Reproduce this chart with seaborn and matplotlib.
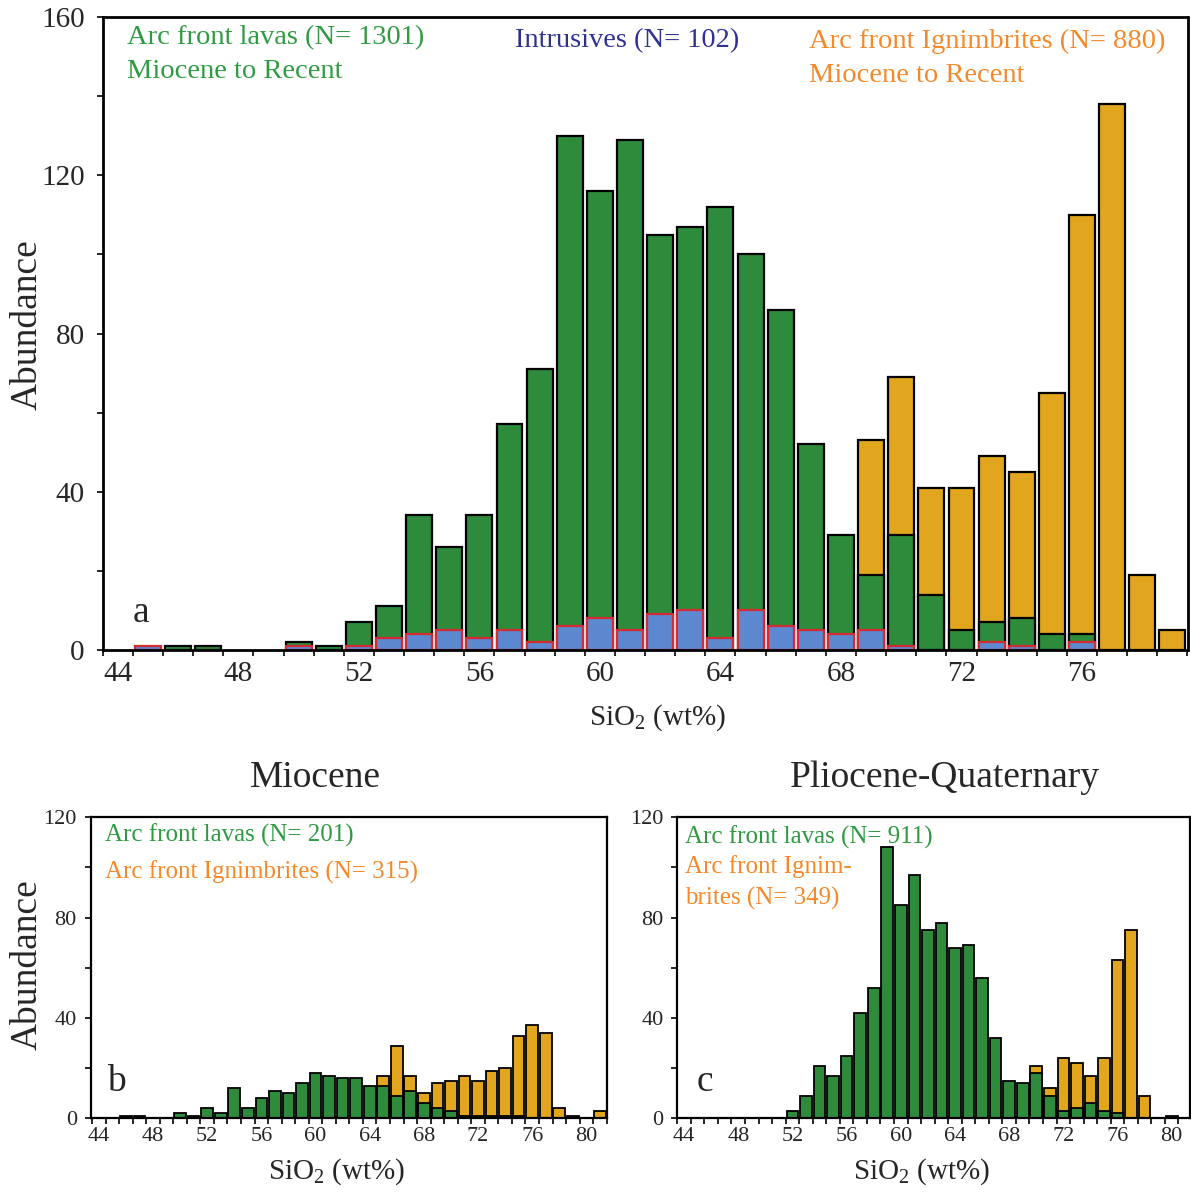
import matplotlib
matplotlib.use("Agg")
import matplotlib.pyplot as plt
import seaborn as sns
import numpy as np
import pandas as pd
from matplotlib.ticker import FixedLocator

# ---------------- data ----------------
# Panel a (all ages)
lava_bins_a = [46, 47, 50, 51, 52, 53, 54, 55, 56, 57, 58, 59, 60, 61, 62, 63, 64, 65,
               66, 67, 68, 69, 70, 71, 72, 73, 74, 75, 76]
lava_counts_a = [1, 1, 2, 1, 7, 11, 34, 26, 34, 57, 71, 130, 116, 129, 105, 107, 112, 100,
                 86, 52, 29, 19, 29, 14, 5, 7, 8, 4, 4]
intr_bins_a = [45, 50, 52, 53, 54, 55, 56, 57, 58, 59, 60, 61, 62, 63, 64, 65, 66, 67,
               68, 69, 70, 73, 74, 76]
intr_counts_a = [1, 1, 1, 3, 4, 5, 3, 5, 2, 6, 8, 5, 9, 10, 3, 10, 6, 5, 4, 5, 1, 2, 1, 2]
ign_bins_a = [69, 70, 71, 72, 73, 74, 75, 76, 77, 78, 79]
ign_counts_a = [53, 69, 41, 41, 49, 45, 65, 110, 138, 19, 5]

# Panel b (Miocene)
lava_bins_b = [46, 47, 50, 51, 52, 53, 54, 55, 56, 57, 58, 59, 60, 61, 62, 63, 64, 65,
               66, 67, 68, 69, 70, 71, 72, 73, 74, 75]
lava_counts_b = [1, 1, 2, 1, 4, 2, 12, 4, 8, 11, 10, 14, 18, 17, 16, 16, 13, 13,
                 9, 11, 6, 4, 3, 1, 1, 1, 1, 1]
ign_bins_b = [65, 66, 67, 68, 69, 70, 71, 72, 73, 74, 75, 76, 77, 78, 79, 81]
ign_counts_b = [17, 29, 17, 10, 14, 15, 17, 15, 19, 20, 33, 37, 34, 4, 1, 3]

# Panel c (Pliocene-Quaternary)
lava_bins_c = [52, 53, 54, 55, 56, 57, 58, 59, 60, 61, 62, 63, 64, 65, 66, 67, 68, 69,
               70, 71, 72, 73, 74, 75, 76]
lava_counts_c = [3, 9, 21, 17, 25, 42, 52, 108, 85, 97, 75, 78, 68, 69, 56, 32, 15, 14,
                 18, 9, 3, 4, 6, 3, 2]
ign_bins_c = [70, 71, 72, 73, 74, 75, 76, 77, 78, 80]
ign_counts_c = [21, 12, 24, 22, 17, 24, 63, 75, 9, 1]

xtick_labels = [44, 48, 52, 56, 60, 64, 68, 72, 76, 80]

# ---------------- style ----------------
sns.set_style("ticks")
plt.rcParams['font.family'] = ['Liberation Serif', 'DejaVu Serif']
plt.rcParams['mathtext.fontset'] = 'custom'
plt.rcParams['mathtext.rm'] = 'Liberation Serif'
plt.rcParams['mathtext.it'] = 'Liberation Serif:italic'

GREEN = '#2e8b3c'
ORANGE = '#e1a61e'
BLUE = '#5b88cf'
RED = '#d42a32'
TXT_GREEN = '#2f9a42'
TXT_ORANGE = '#f5892a'
TXT_BLUE = '#2e3192'

W, H = 1191, 1192
fig = plt.figure(figsize=(W / 100, H / 100), dpi=100)


def box(l, t, r, b):
    return [l / W, 1 - b / H, (r - l) / W, (b - t) / H]


def bars(ax, bins, counts, color, edge, lw):
    df = pd.DataFrame({'x': bins, 'y': counts})
    sns.barplot(data=df, x='x', y='y', native_scale=True, width=0.86,
                color=color, saturation=1, edgecolor=edge, linewidth=lw,
                errorbar=None, ax=ax)


def setup(ax, xlim, ylim, ystep, tick_fs, spine_lw, xpad, ypad):
    ax.set_xlim(*xlim)
    ax.set_ylim(*ylim)
    ax.xaxis.set_major_locator(FixedLocator(xtick_labels))
    ax.xaxis.set_minor_locator(FixedLocator(np.arange(43.5, xlim[1] + 0.01, 1)))
    ax.yaxis.set_major_locator(FixedLocator(np.arange(0, ylim[1] + 1, ystep)))
    ax.yaxis.set_minor_locator(FixedLocator(np.arange(ystep / 2, ylim[1], ystep)))
    ax.tick_params(axis='x', which='major', length=0, labelsize=tick_fs, pad=xpad)
    ax.tick_params(axis='x', which='minor', length=4, width=1.4, direction='out')
    ax.tick_params(axis='y', which='both', length=4, width=1.4, direction='out',
                   labelsize=tick_fs, pad=ypad)
    for s in ax.spines.values():
        s.set_visible(True)
        s.set_linewidth(spine_lw)
        s.set_color('black')
    ax.set_xlabel('')
    ax.set_ylabel('')


# ---------------- panel a ----------------
ax_a = fig.add_axes(box(102.7, 17, 1187.5, 650))
bars(ax_a, ign_bins_a, ign_counts_a, ORANGE, 'black', 1.6)
bars(ax_a, lava_bins_a, lava_counts_a, GREEN, 'black', 1.6)
bars(ax_a, intr_bins_a, intr_counts_a, BLUE, RED, 1.6)
setup(ax_a, (43.5, 79.5), (0, 160), 40, 21, 2.0, 8, 9)

# ---------------- panel b ----------------
ax_b = fig.add_axes(box(90.7, 817.3, 606.7, 1118.3))
bars(ax_b, ign_bins_b, ign_counts_b, ORANGE, 'black', 1.3)
bars(ax_b, lava_bins_b, lava_counts_b, GREEN, 'black', 1.3)
setup(ax_b, (43.4, 81.5), (0, 120), 40, 16, 1.6, 6, 6)

# ---------------- panel c ----------------
ax_c = fig.add_axes(box(677.3, 817.3, 1190, 1118.3))
bars(ax_c, ign_bins_c, ign_counts_c, ORANGE, 'black', 1.3)
bars(ax_c, lava_bins_c, lava_counts_c, GREEN, 'black', 1.3)
setup(ax_c, (43.5, 81.35), (0, 120), 40, 16, 1.6, 6, 6)


def ftext(x, y, s, **kw):
    fig.text(x / W, 1 - y / H, s, **kw)


# panel a annotations
ftext(127, 38, 'Arc front lavas (N= 1301)', color=TXT_GREEN, fontsize=20.5, va='center')
ftext(127, 71, 'Miocene to Recent', color=TXT_GREEN, fontsize=20.5, va='center')
ftext(515, 41, 'Intrusives (N= 102)', color=TXT_BLUE, fontsize=20.5, va='center')
ftext(809, 41, 'Arc front Ignimbrites (N= 880)', color=TXT_ORANGE, fontsize=20.5, va='center')
ftext(809, 76, 'Miocene to Recent', color=TXT_ORANGE, fontsize=20.5, va='center')
ftext(141, 613, 'a', fontsize=27, ha='center', va='center')
ftext(27, 325, 'Abundance', fontsize=27, rotation=90, ha='center', va='center')
ftext(658, 718, r'SiO$_2$ (wt%)', fontsize=21, ha='center', va='center')

# panel b annotations
ftext(315, 778, 'Miocene', fontsize=27, ha='center', va='center')
ftext(105, 835, 'Arc front lavas (N= 201)', color=TXT_GREEN, fontsize=18, va='center')
ftext(105, 872, 'Arc front Ignimbrites (N= 315)', color=TXT_ORANGE, fontsize=18, va='center')
ftext(116, 1082, 'b', fontsize=27, ha='center', va='center')
ftext(27, 965, 'Abundance', fontsize=27, rotation=90, ha='center', va='center')
ftext(337, 1172, r'SiO$_2$ (wt%)', fontsize=21, ha='center', va='center')

# panel c annotations
ftext(945, 778, 'Pliocene-Quaternary', fontsize=27, ha='center', va='center')
ftext(685, 837, 'Arc front lavas (N= 911)', color=TXT_GREEN, fontsize=18, va='center')
ftext(685, 867, 'Arc front Ignim-', color=TXT_ORANGE, fontsize=18, va='center')
ftext(685, 898, 'brites (N= 349)', color=TXT_ORANGE, fontsize=18, va='center')
ftext(705, 1082, 'c', fontsize=27, ha='center', va='center')
ftext(922, 1172, r'SiO$_2$ (wt%)', fontsize=21, ha='center', va='center')

fig.savefig('out.png', dpi=100)
